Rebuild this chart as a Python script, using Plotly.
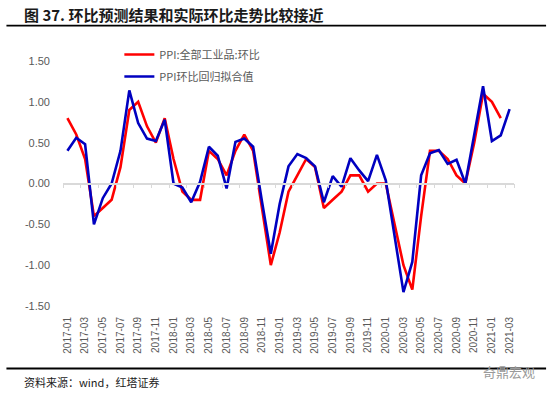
import pandas as pd
import plotly.graph_objects as go

# ---------------- data ----------------
months = [p.strftime("%Y-%m") for p in pd.period_range("2017-01", "2021-03", freq="M")]

ppi_actual = [
    0.8, 0.6, 0.3, -0.4, -0.3, -0.2, 0.2, 0.9, 1.0, 0.7, 0.5, 0.8,
    0.3, -0.1, -0.2, -0.2, 0.4, 0.3, 0.1, 0.4, 0.6, 0.4, -0.3, -1.0,
    -0.6, -0.1, 0.1, 0.3, 0.2, -0.3, -0.2, -0.1, 0.1, 0.1, -0.1, 0.0,
    0.0, -0.5, -1.0, -1.3, -0.4, 0.4, 0.4, 0.3, 0.1, 0.0, 0.5, 1.1,
    1.0, 0.8, None,
]
ppi_fitted = [
    0.40, 0.56, 0.48, -0.50, -0.18, 0.00, 0.40, 1.14, 0.74, 0.55, 0.52, 0.78,
    0.00, -0.05, -0.23, 0.02, 0.45, 0.34, -0.06, 0.51, 0.55, 0.45, -0.22, -0.86,
    -0.25, 0.21, 0.36, 0.31, 0.21, -0.23, 0.09, -0.04, 0.31, 0.16, 0.03, 0.35,
    0.04, -0.65, -1.33, -0.96, 0.10, 0.37, 0.41, 0.24, 0.29, 0.00, 0.59, 1.19,
    0.52, 0.59, 0.91,
]
series_names = ["PPI:全部工业品:环比", "PPI环比回归拟合值"]
y_ticks = [1.5, 1.0, 0.5, 0.0, -0.5, -1.0, -1.5]
y_tick_labels = ["1.50", "1.00", "0.50", "0.00", "-0.50", "-1.00", "-1.50"]
x_tick_labels = months[::2]

title_text = "图 37. 环比预测结果和实际环比走势比较接近"
source_text = "资料来源：wind，红塔证券"
watermark_text = "奇鼎宏观"

# ---------------- layout geometry ----------------
W, H = 554, 397
L, R, T, B = 62.6, 40.1, 61, 91
pw, ph = W - L - R, H - T - B


def px_x(px):
    return (px - L) / pw


def px_y(py):
    return (H - B - py) / ph


gray = "#595959"
cjk = "Noto Sans CJK SC"
latin = "Liberation Sans, Arial, sans-serif"

fig = go.Figure()
fig.add_trace(go.Scatter(
    x=months, y=ppi_actual, mode="lines", name=series_names[0],
    line=dict(color="#FF0000", width=2.6), legendgroup="a",
))
fig.add_trace(go.Scatter(
    x=months, y=ppi_fitted, mode="lines", name=series_names[1],
    line=dict(color="#0000C0", width=2.6), legendgroup="b",
))
# helper trace to carry the zero-crossing category axis
fig.add_trace(go.Scatter(
    x=months, y=ppi_fitted, xaxis="x2", mode="lines", showlegend=False,
    hoverinfo="skip", line=dict(width=0), opacity=0,
))

fig.update_layout(
    width=W, height=H,
    margin=dict(l=L, r=R, t=T, b=B, pad=0),
    paper_bgcolor="white", plot_bgcolor="white",
    showlegend=True,
    legend=dict(
        x=px_x(119), xanchor="left", y=px_y(40), yanchor="top",
        bgcolor="rgba(0,0,0,0)", traceorder="grouped", tracegroupgap=3,
        font=dict(family=cjk, size=11, color=gray),
    ),
    xaxis=dict(
        type="category", categoryorder="array", categoryarray=months,
        range=[-0.5, len(months) - 0.5],
        tickmode="array", tickvals=x_tick_labels, ticktext=x_tick_labels,
        tickangle=-90, showline=False, ticks="", showgrid=False, zeroline=False,
        tickfont=dict(family=latin, size=10, color=gray),
        ticklabelstandoff=8,
    ),
    xaxis2=dict(
        type="category", categoryorder="array", categoryarray=months,
        range=[-0.5, len(months) - 0.5], overlaying="x", anchor="free",
        position=px_y(H - B - ph / 2), side="bottom",
        showline=True, linecolor="#D9D9D9", linewidth=1.5,
        ticks="outside", ticklen=4, tickcolor="#D9D9D9", tickwidth=1,
        tickson="boundaries", tickmode="array", tickvals=x_tick_labels,
        showticklabels=False, showgrid=False, zeroline=False,
    ),
    yaxis=dict(
        range=[-1.5, 1.5], tickmode="array", tickvals=y_ticks, ticktext=y_tick_labels,
        showgrid=False, zeroline=False, showline=False, ticks="",
        tickfont=dict(family=latin, size=11, color=gray),
        ticklabelstandoff=12,
    ),
)

# title, rules, source, watermark
fig.add_annotation(
    xref="paper", yref="paper", x=px_x(22), y=px_y(14.5), xanchor="left", yanchor="middle",
    text="<b>" + title_text + "</b>", showarrow=False,
    font=dict(family=cjk, size=15, color="#1a1a1a"),
)
for yy in (25.7, 368.5):
    fig.add_shape(type="line", xref="paper", yref="paper",
                  x0=px_x(6), x1=px_x(546), y0=px_y(yy), y1=px_y(yy),
                  line=dict(color="black", width=1.8))
fig.add_annotation(
    xref="paper", yref="paper", x=px_x(22), y=px_y(382), xanchor="left", yanchor="middle",
    text=source_text, showarrow=False,
    font=dict(family=cjk, size=11, color="#1a1a1a"),
)
fig.add_annotation(
    xref="paper", yref="paper", x=px_x(537), y=px_y(371), xanchor="right", yanchor="middle",
    text=watermark_text, showarrow=False,
    font=dict(family=cjk, size=13, color="#9a9a9a"),
)

fig.write_html(
    "out.html",
    config={"displayModeBar": False},
    post_script="document.body.style.margin='0';document.body.style.padding='0';",
)
